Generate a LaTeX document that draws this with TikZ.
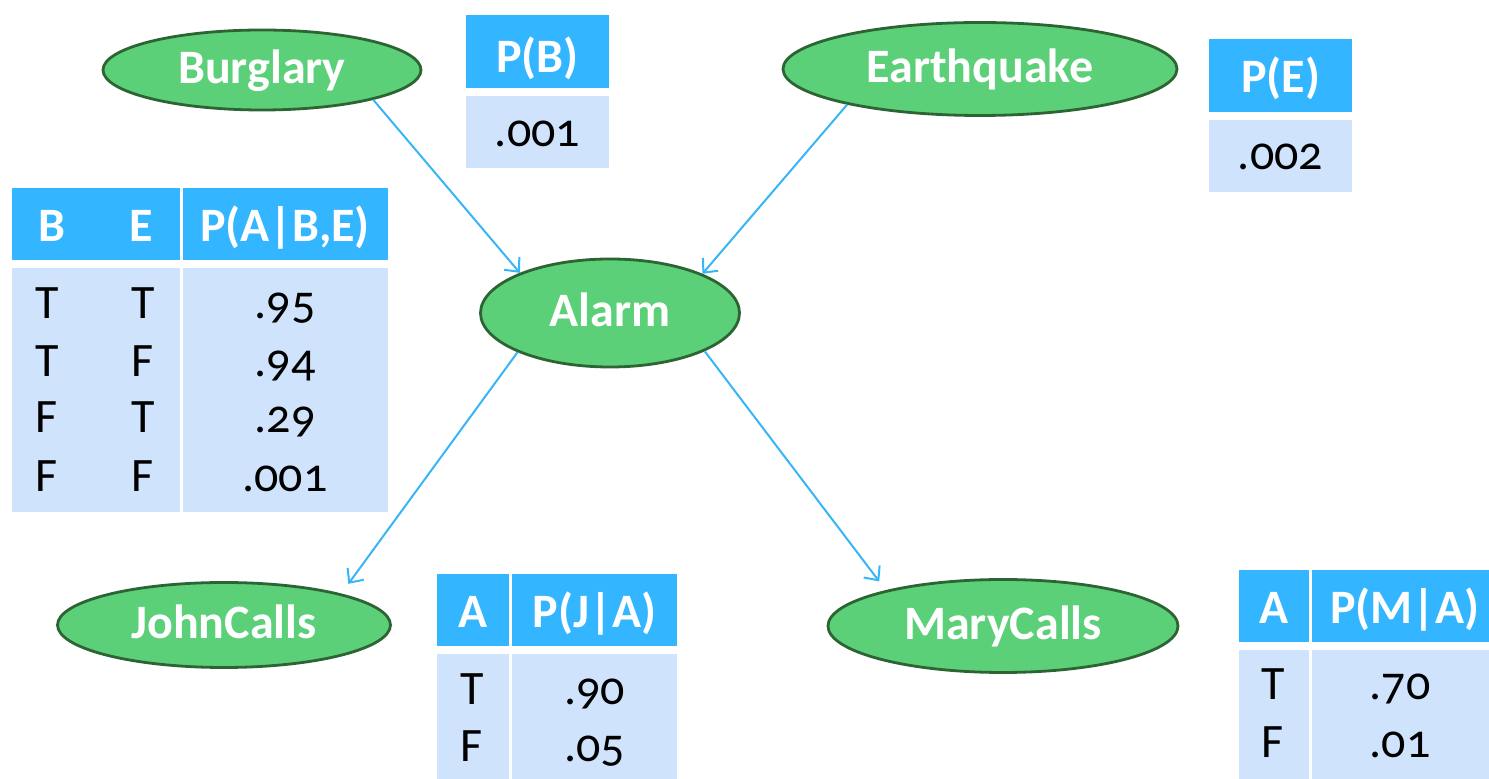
\documentclass[tikz,border=0pt]{standalone}
\usepackage{fontspec}
\setmainfont{Carlito}[Numbers=OldStyle]
\usetikzlibrary{arrows.meta,shapes.geometric}
\definecolor{hdrblue}{RGB}{51,181,255}
\definecolor{bodyblue}{RGB}{207,227,252}
\definecolor{nodegreen}{RGB}{92,208,120}
\definecolor{nodeborder}{RGB}{44,100,52}
\definecolor{arrowblue}{RGB}{56,180,248}
\tikzset{
  ell/.style={ellipse, fill=nodegreen, draw=nodeborder, line width=1.4pt, inner sep=0pt,
    text=white, font=\fontsize{24}{28}\selectfont\bfseries, text height=17pt, text depth=3pt},
  hcell/.style={fill=hdrblue},
  bcell/.style={fill=bodyblue},
  htxt/.style={anchor=base, inner sep=0pt, text=white, font=\fontsize{24}{28}\selectfont\bfseries},
  btxt/.style={anchor=base, inner sep=0pt, text=black, font=\fontsize{24}{28}\selectfont},
  link/.style={draw=arrowblue, line width=1pt, -{Straight Barb[length=5.5pt,width=10pt]}}
}
\begin{document}
\begin{tikzpicture}[x=0.5pt,y=-0.5pt]
\useasboundingbox (0,0) rectangle (1489,779);
% ellipses
\node[ell, minimum width=159pt, minimum height=40pt] (burglary) at (262,70) {Burglary};
\node[ell, minimum width=197pt, minimum height=46.5pt] (earthquake) at (980,69) {Earthquake};
\node[ell, minimum width=129.5pt, minimum height=54pt] (alarm) at (610,313) {Alarm};
\node[ell, minimum width=166.5pt, minimum height=42.5pt] (john) at (224,625) {JohnCalls};
\node[ell, minimum width=175pt, minimum height=46.5pt] (mary) at (1003,626) {MaryCalls};
% connectors
\draw[link] (burglary.-15) -- (alarm.156);
\draw[link] (earthquake.195) -- (alarm.23);
\draw[link, shorten >=6pt] (alarm.203) -- (john.15.7);
\draw[link, shorten >=5.5pt] (alarm.-22.5) -- (mary.163.6);
% P(B)
\fill[hcell] (466,15) rectangle (609,88);
\fill[bcell] (466,96) rectangle (609,168);
\node[htxt] (pbh) at (537.5,73) {P(B)};
\node[btxt] (pbv) at (537.5,147) {.001};
% P(E)
\fill[hcell] (1209,39) rectangle (1352,112);
\fill[bcell] (1209,120) rectangle (1352,192);
\node[htxt] (peh) at (1280.5,93) {P(E)};
\node[btxt] (pev) at (1280.5,170) {.002};
% P(A|B,E)
\fill[hcell] (12,188) rectangle (180,260);
\fill[hcell] (183,188) rectangle (388,260);
\fill[bcell] (12,268) rectangle (180,512);
\fill[bcell] (183,268) rectangle (388,512);
\node[htxt] (pah1) at (52,242) {B};
\node[htxt] (pah2) at (141,242) {E};
\node[htxt] (pah3) at (285,242) {P(A|B,E)};
\node[btxt] (pa11) at (47,319) {T};
\node[btxt] (pa12) at (143,319) {T};
\node[btxt] (pa13) at (285,319) {.95};
\node[btxt] (pa21) at (47,377) {T};
\node[btxt] (pa22) at (143,377) {F};
\node[btxt] (pa23) at (285,377) {.94};
\node[btxt] (pa31) at (47,433) {F};
\node[btxt] (pa32) at (143,433) {T};
\node[btxt] (pa33) at (285,433) {.29};
\node[btxt] (pa41) at (47,492) {F};
\node[btxt] (pa42) at (143,492) {F};
\node[btxt] (pa43) at (285,492) {.001};
% P(J|A)
\fill[hcell] (437,574) rectangle (509,646);
\fill[hcell] (512,574) rectangle (677,646);
\fill[bcell] (437,654) rectangle (509,779);
\fill[bcell] (512,654) rectangle (677,779);
\node[htxt] (pjh1) at (473,628) {A};
\node[htxt] (pjh2) at (594.5,628) {P(J|A)};
\node[btxt] (pj11) at (472,705) {T};
\node[btxt] (pj12) at (594.5,705) {.90};
\node[btxt] (pj21) at (472,762) {F};
\node[btxt] (pj22) at (594.5,762) {.05};
% P(M|A)
\fill[hcell] (1239,570) rectangle (1309,642);
\fill[hcell] (1312,570) rectangle (1489,642);
\fill[bcell] (1239,650) rectangle (1309,779);
\fill[bcell] (1312,650) rectangle (1489,779);
\node[htxt] (pmh1) at (1274,624) {A};
\node[htxt] (pmh2) at (1405,624) {P(M|A)};
\node[btxt] (pm11) at (1273,700) {T};
\node[btxt] (pm12) at (1400,700) {.70};
\node[btxt] (pm21) at (1273,758) {F};
\node[btxt] (pm22) at (1400,758) {.01};
\end{tikzpicture}
\end{document}
